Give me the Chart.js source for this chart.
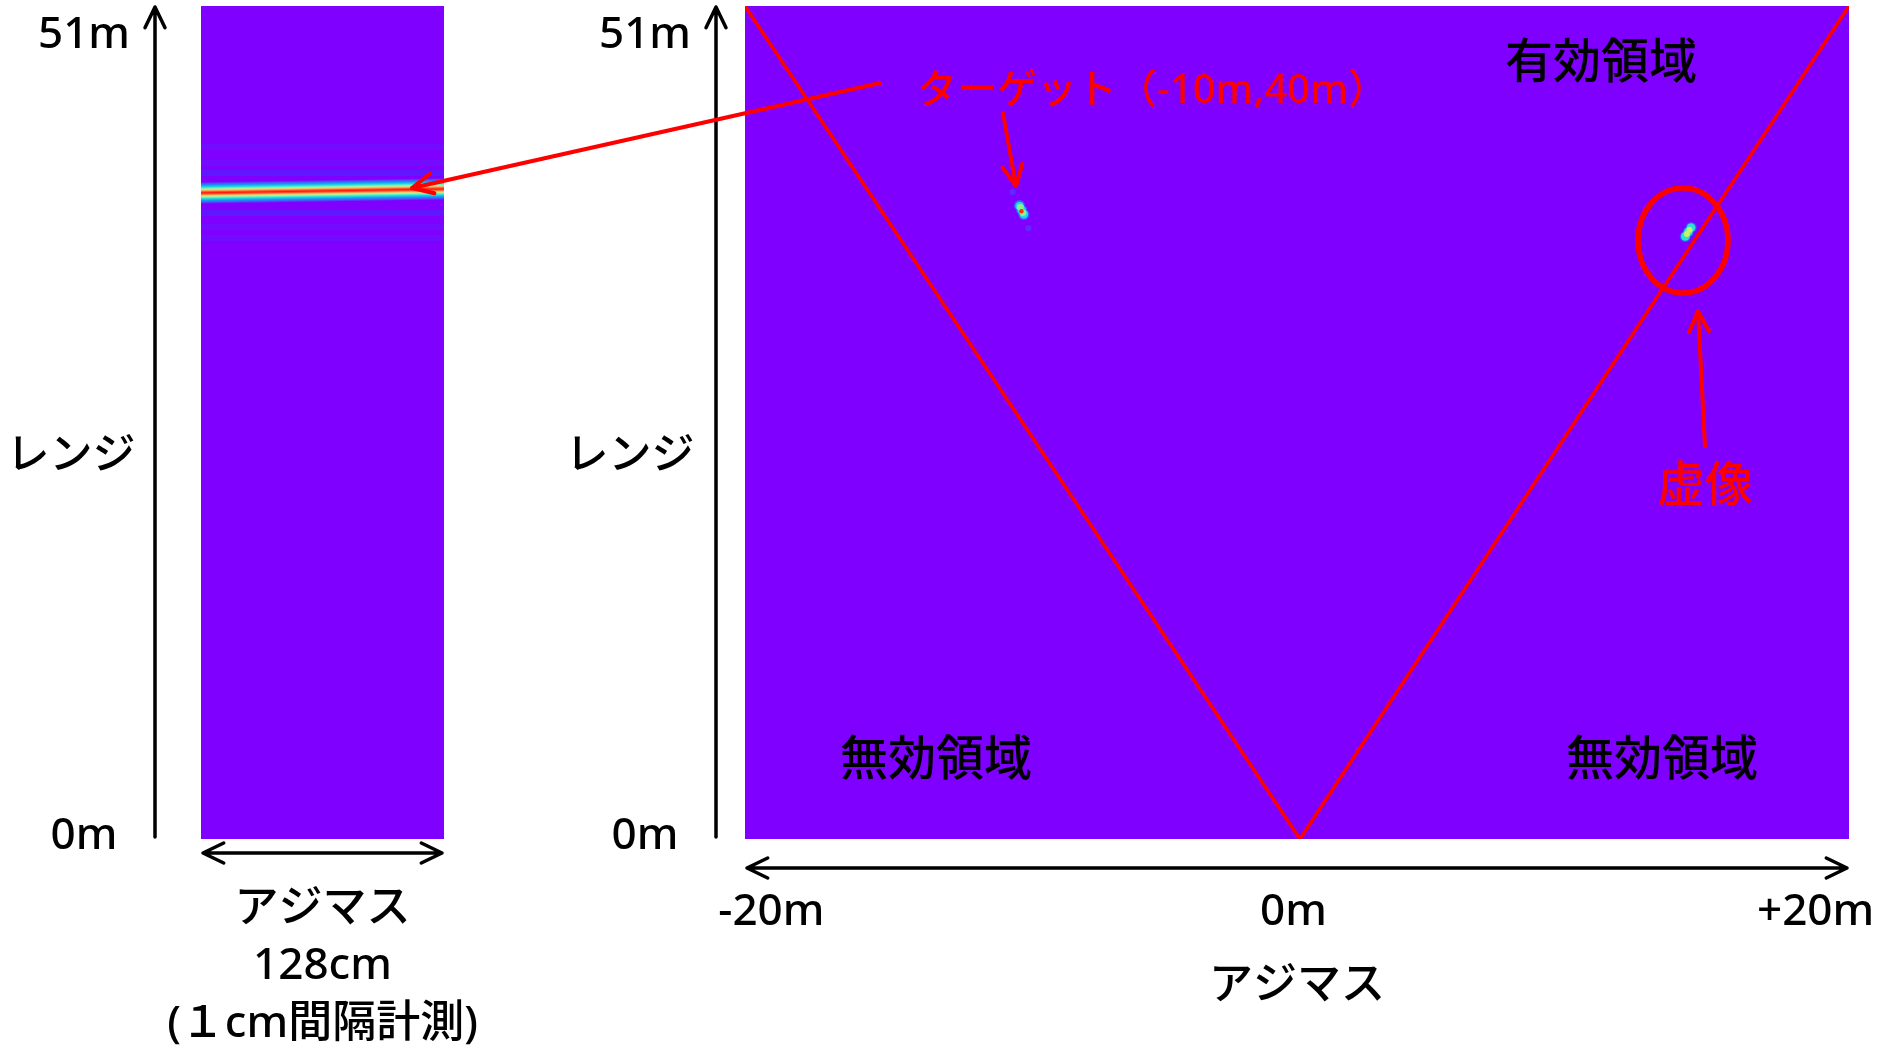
<!DOCTYPE html>
<html lang="ja">
<head>
<meta charset="utf-8">
<title>レンジ・アジマス画像</title>
<script src="https://cdn.jsdelivr.net/npm/chart.js@4.4.1/dist/chart.umd.min.js"></script>
<style>
    html, body { margin: 0; padding: 0; background: #fff; overflow: hidden; }
    .panel { position: absolute; left: 0; top: 0; width: 1878px; height: 1049px; }
    #strip-wrap { z-index: 1; }
    #image-wrap { z-index: 2; }
</style>
</head>
<body>
<div class="panel" id="strip-wrap"><canvas id="strip-chart"></canvas></div>
<div class="panel" id="image-wrap"><canvas id="image-chart"></canvas></div>
<script>
// range axis shared by both panels (m)
const rangeMin = -0.19;
const rangeMax = 52.85;
const rangeTicks = [0, 51];

// left panel: raw scan, azimuth 0..128 cm
const stripAzimuth = [0, 128];
const stripPeakRange = [40.95, 41.2];
const stripRipplesNear = [42.21, 39.67];
const stripRipplesFar = [43.87, 42.85, 38.78, 38.08];

// right panel: focused image, azimuth in m
const azimuthMin = -21.01;
const azimuthMax = 21.28;
const azimuthTicks = [-20, 0, 20];
const edgeX = [azimuthMin, 0.25, azimuthMax];
const edgeY = [rangeMax, rangeMin, rangeMax];

// target (-10m, 40m) blob, outer rim to peak
const targetRimX = [-10.495, -10.41, -10.325];
const targetRimY = [40.15, 39.86, 39.57];
const targetHaloX = [-10.49, -10.41, -10.33];
const targetHaloY = [40.12, 39.86, 39.60];
const targetBodyX = [-10.46, -10.36];
const targetBodyY = [40.03, 39.69];
const targetCoreX = [-10.42];
const targetCoreY = [39.78];
const targetLobeX = [-10.76, -10.15];
const targetLobeY = [41.0, 38.7];

// ghost (虚像) blob, outer rim to peak
const ghostRimX = [15.005, 15.12, 15.235];
const ghostRimY = [38.17, 38.46, 38.75];
const ghostHaloX = [15.01, 15.12, 15.23];
const ghostHaloY = [38.18, 38.46, 38.74];
const ghostCoreX = [15.07, 15.17];
const ghostCoreY = [38.33, 38.59];

const FONT = "'Noto Sans', 'Noto Sans CJK JP', sans-serif";
const WEIGHT = 500;
const PURPLE = '#7f00ff';
const RED = '#ff0000';

const toPoints = (xs, ys) => xs.map((x, i) => ({ x: x, y: ys[i] }));

// keep the plot area exactly where the layout padding puts it
function fixBox(scale, w, h) {
    if (w !== undefined) scale.width = w;
    if (h !== undefined) scale.height = h;
    scale.paddingTop = 0;
    scale.paddingBottom = 0;
    scale.paddingLeft = 0;
    scale.paddingRight = 0;
}

// open chevron arrow
function arrow(ctx, x0, y0, x1, y1, color, width, both) {
    const head = 23;
    const spread = 0.45;
    ctx.save();
    ctx.strokeStyle = color;
    ctx.lineWidth = width;
    ctx.lineCap = 'round';
    ctx.lineJoin = 'round';
    ctx.beginPath();
    ctx.moveTo(x0, y0);
    ctx.lineTo(x1, y1);
    const tips = both ? [[x1, y1, x0, y0], [x0, y0, x1, y1]] : [[x1, y1, x0, y0]];
    tips.forEach(([tx, ty, fx, fy]) => {
        const a = Math.atan2(fy - ty, fx - tx);
        ctx.moveTo(tx + head * Math.cos(a - spread), ty + head * Math.sin(a - spread));
        ctx.lineTo(tx, ty);
        ctx.lineTo(tx + head * Math.cos(a + spread), ty + head * Math.sin(a + spread));
    });
    ctx.stroke();
    ctx.restore();
}

function label(ctx, text, x, y, size, color, align) {
    ctx.save();
    ctx.font = WEIGHT + ' ' + size + 'px ' + FONT;
    ctx.fillStyle = color;
    ctx.textAlign = align || 'center';
    ctx.textBaseline = 'middle';
    ctx.fillText(text, x, y);
    ctx.restore();
}

const purpleBackground = {
    id: 'purpleBackground',
    beforeDatasetsDraw(chart) {
        const { ctx, chartArea } = chart;
        ctx.save();
        ctx.fillStyle = PURPLE;
        ctx.fillRect(chartArea.left, chartArea.top, chartArea.width, chartArea.height);
        ctx.restore();
    }
};

// gradient across the bright band, perpendicular to its direction
function bandColor(context) {
    const chart = context.chart;
    if (!chart.chartArea) return RED;
    const xs = chart.scales.x;
    const ys = chart.scales.y;
    const x0 = xs.getPixelForValue(stripAzimuth[0]);
    const y0 = ys.getPixelForValue(stripPeakRange[0]);
    const x1 = xs.getPixelForValue(stripAzimuth[1]);
    const y1 = ys.getPixelForValue(stripPeakRange[1]);
    const len = Math.hypot(x1 - x0, y1 - y0);
    const nx = -(y1 - y0) / len;
    const ny = (x1 - x0) / len;
    const mx = (x0 + x1) / 2;
    const my = (y0 + y1) / 2;
    const half = 11;
    const g = chart.ctx.createLinearGradient(mx - nx * half, my - ny * half, mx + nx * half, my + ny * half);
    g.addColorStop(0.00, '#7f00ff');
    g.addColorStop(0.07, '#4d4ffc');
    g.addColorStop(0.15, '#1a96f2');
    g.addColorStop(0.22, '#1acee3');
    g.addColorStop(0.28, '#4df3ce');
    g.addColorStop(0.33, '#b3f396');
    g.addColorStop(0.37, '#e6ce74');
    g.addColorStop(0.41, '#ff964f');
    g.addColorStop(0.45, '#ff4f28');
    g.addColorStop(0.50, '#ff1a0d');
    g.addColorStop(0.55, '#ff4f28');
    g.addColorStop(0.59, '#ff964f');
    g.addColorStop(0.63, '#e6ce74');
    g.addColorStop(0.67, '#b3f396');
    g.addColorStop(0.72, '#4df3ce');
    g.addColorStop(0.78, '#1acee3');
    g.addColorStop(0.85, '#1a96f2');
    g.addColorStop(0.93, '#4d4ffc');
    g.addColorStop(1.00, '#7f00ff');
    return g;
}

const stripDecor = {
    id: 'stripDecor',
    afterDraw(chart) {
        const ctx = chart.ctx;
        const area = chart.chartArea;
        arrow(ctx, 155, area.bottom - 2, 155, 7, '#000', 3.5, false);
        arrow(ctx, area.left + 2, 853, area.right - 2, 853, '#000', 3.5, true);
        label(ctx, 'レンジ', 71, 457, 43, '#000');
        // third caption line is wider than the strip, so it is not part of the axis title
        label(ctx, '(１cm間隔計測)', (area.left + area.right) / 2, 1024, 44, '#000');
    }
};

const imageDecor = {
    id: 'imageDecor',
    afterDraw(chart) {
        const ctx = chart.ctx;
        const area = chart.chartArea;
        arrow(ctx, 716, area.bottom - 2, 716, 7, '#000', 3.5, false);
        arrow(ctx, area.left + 2, 868, area.right - 2, 868, '#000', 3.5, true);
        label(ctx, 'レンジ', 630, 457, 43, '#000');

        label(ctx, '有効領域', 1601, 64, 48, '#000');
        label(ctx, '無効領域', 936, 761, 48, '#000');
        label(ctx, '無効領域', 1662, 761, 48, '#000');

        label(ctx, 'ターゲット（-10m,40m）', 917, 92, 40, RED, 'left');
        label(ctx, '虚像', 1705, 487, 48, RED);

        arrow(ctx, 880, 83, 412, 188, RED, 4, false);
        arrow(ctx, 1003, 113, 1016, 186, RED, 4, false);
        arrow(ctx, 1705, 446, 1698, 311, RED, 4, false);

        ctx.save();
        ctx.strokeStyle = RED;
        ctx.lineWidth = 5.5;
        ctx.beginPath();
        ctx.ellipse(1683, 240.5, 45, 52.5, 0, 0, Math.PI * 2);
        ctx.stroke();
        ctx.restore();
    }
};

const tickFont = { family: FONT, size: 44, weight: WEIGHT };

// Chart.js paints dataset 0 last, so the topmost layer comes first in each list
const stripChart = new Chart(document.getElementById('strip-chart'), {
    type: 'line',
    data: {
        datasets: [
            {
                data: toPoints(stripAzimuth, stripPeakRange),
                borderColor: bandColor,
                borderWidth: 22
            },
            ...stripRipplesNear.map(r => ({
                data: toPoints(stripAzimuth, [r, r]),
                borderColor: 'rgba(60, 50, 255, 0.45)',
                borderWidth: 6
            })),
            ...stripRipplesFar.map(r => ({
                data: toPoints(stripAzimuth, [r, r]),
                borderColor: 'rgba(70, 50, 255, 0.22)',
                borderWidth: 6
            }))
        ]
    },
    options: {
        responsive: true,
        maintainAspectRatio: false,
        animation: false,
        events: [],
        layout: { padding: { top: 6, right: 1434, left: 0, bottom: 0 } },
        elements: {
            point: { radius: 0 },
            line: { borderCapStyle: 'butt', tension: 0 }
        },
        plugins: {
            legend: { display: false },
            tooltip: { enabled: false }
        },
        scales: {
            x: {
                type: 'linear',
                min: stripAzimuth[0],
                max: stripAzimuth[1],
                grid: { display: false },
                border: { display: false },
                ticks: { display: false },
                title: {
                    display: true,
                    text: ['アジマス', '128cm'],
                    color: '#000',
                    font: { family: FONT, size: 44, weight: WEIGHT, lineHeight: 1.307 },
                    padding: { top: 0, bottom: 53.75 }
                },
                afterFit: scale => fixBox(scale, undefined, 210)
            },
            y: {
                type: 'linear',
                min: rangeMin,
                max: rangeMax,
                grid: { display: false },
                border: { display: false },
                afterBuildTicks: scale => { scale.ticks = rangeTicks.map(v => ({ value: v })); },
                ticks: {
                    callback: v => v + 'm',
                    crossAlign: 'center',
                    padding: 63,
                    color: '#000',
                    font: tickFont
                },
                afterFit: scale => fixBox(scale, 201, undefined)
            }
        }
    },
    plugins: [purpleBackground, stripDecor]
});

const blob = (xs, ys, radius, color) => ({
    data: toPoints(xs, ys),
    pointRadius: radius,
    pointBackgroundColor: color,
    pointBorderWidth: 0,
    showLine: false
});

const imageChart = new Chart(document.getElementById('image-chart'), {
    type: 'scatter',
    data: {
        datasets: [
            {
                data: toPoints(edgeX, edgeY),
                showLine: true,
                borderColor: RED,
                borderWidth: 3.5,
                pointRadius: 0
            },
            blob(targetCoreX, targetCoreY, 2.2, '#ff3010'),
            blob(targetBodyX, targetBodyY, 3.3, '#8cf28a'),
            blob(targetHaloX, targetHaloY, 4.3, '#22d8e8'),
            blob(targetRimX, targetRimY, 5.5, '#3a5cff'),
            blob(targetLobeX, targetLobeY, 3, 'rgba(80, 70, 255, 0.6)'),
            blob(ghostCoreX, ghostCoreY, 3, '#c8f560'),
            blob(ghostHaloX, ghostHaloY, 4.4, '#2ee0d0'),
            blob(ghostRimX, ghostRimY, 5.5, '#3456ff')
        ]
    },
    options: {
        responsive: true,
        maintainAspectRatio: false,
        animation: false,
        events: [],
        layout: { padding: { top: 6, right: 29, left: 0, bottom: 0 } },
        plugins: {
            legend: { display: false },
            tooltip: { enabled: false }
        },
        scales: {
            x: {
                type: 'linear',
                min: azimuthMin,
                max: azimuthMax,
                grid: { display: false },
                border: { display: false },
                afterBuildTicks: scale => { scale.ticks = azimuthTicks.map(v => ({ value: v })); },
                ticks: {
                    callback: v => (v > 0 ? '+' : '') + v + 'm',
                    padding: 39,
                    maxRotation: 0,
                    autoSkip: false,
                    color: '#000',
                    font: tickFont
                },
                title: {
                    display: true,
                    text: 'アジマス',
                    color: '#000',
                    font: { family: FONT, size: 44, weight: WEIGHT },
                    padding: { top: 0, bottom: 36 }
                },
                afterFit: scale => fixBox(scale, undefined, 210)
            },
            y: {
                type: 'linear',
                min: rangeMin,
                max: rangeMax,
                grid: { display: false },
                border: { display: false },
                afterBuildTicks: scale => { scale.ticks = rangeTicks.map(v => ({ value: v })); },
                ticks: {
                    callback: v => v + 'm',
                    crossAlign: 'center',
                    padding: 46,
                    color: '#000',
                    font: tickFont
                },
                afterFit: scale => fixBox(scale, 745, undefined)
            }
        }
    },
    plugins: [purpleBackground, imageDecor]
});
</script>
</body>
</html>
